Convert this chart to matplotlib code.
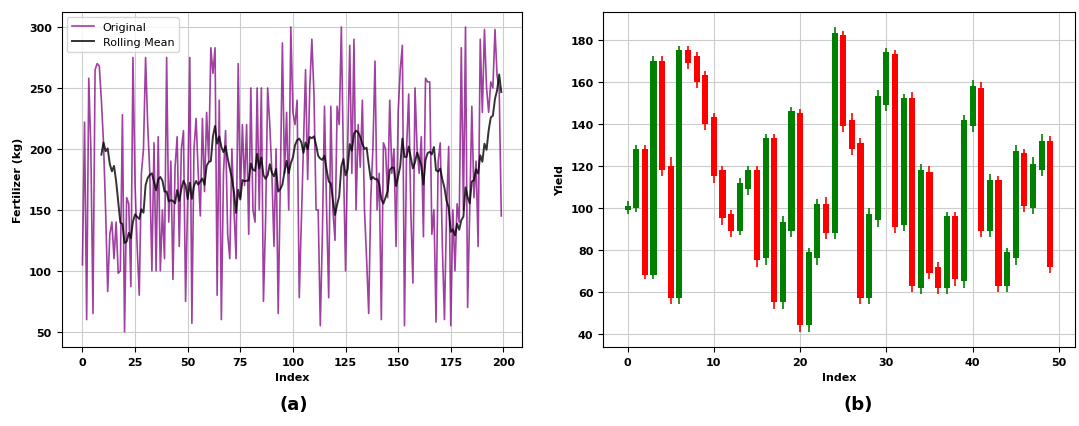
import matplotlib
matplotlib.use("Agg")
import matplotlib.pyplot as plt
import pandas as pd

# panel (a): fertilizer per index
fertilizer = [
    105, 222, 60, 258, 200, 65, 265, 270, 268, 240,
    205, 150, 83, 130, 140, 110, 140, 98, 100, 228,
    50, 160, 155, 87, 275, 170, 120, 80, 180, 200,
    275, 220, 180, 100, 205, 100, 210, 100, 150, 110,
    275, 140, 190, 93, 185, 210, 120, 200, 215, 75,
    160, 275, 57, 200, 225, 180, 145, 225, 165, 230,
    190, 283, 262, 283, 80, 240, 60, 180, 215, 130,
    110, 200, 150, 110, 270, 160, 220, 170, 220, 130,
    250, 150, 140, 250, 150, 250, 75, 140, 250, 220,
    180, 120, 200, 65, 170, 287, 180, 230, 150, 300,
    230, 220, 240, 78, 140, 200, 265, 175, 250, 290,
    245, 150, 150, 55, 130, 235, 150, 78, 235, 150,
    125, 235, 220, 300, 190, 100, 200, 285, 180, 290,
    150, 220, 185, 240, 150, 110, 65, 160, 200, 272,
    150, 180, 60, 205, 200, 160, 240, 180, 200, 120,
    230, 265, 285, 55, 200, 245, 150, 90, 250, 200,
    180, 210, 128, 258, 255, 255, 130, 150, 58, 190,
    205, 120, 60, 150, 202, 55, 150, 100, 155, 140,
    283, 150, 300, 70, 150, 235, 160, 190, 120, 290,
    230, 298, 250, 230, 255, 250, 298, 260, 250, 145,
]
window = 10

# panel (b): yield candles
opens = [99, 100, 128, 68, 170, 120, 57, 175, 172, 163,
         143, 118, 97, 89, 109, 118, 76, 133, 55, 89,
         145, 44, 76, 102, 88, 182, 142, 131, 57, 94,
         149, 173, 92, 152, 62, 117, 72, 62, 96, 65,
         139, 157, 89, 113, 63, 76, 126, 100, 118, 132]
closes = [101, 128, 68, 170, 118, 57, 175, 169, 160, 140,
          115, 95, 89, 112, 118, 75, 133, 55, 93, 146,
          44, 79, 102, 88, 183, 139, 128, 57, 97, 153,
          174, 91, 152, 63, 118, 69, 62, 96, 66, 142,
          158, 89, 113, 63, 79, 127, 101, 121, 132, 72]
highs = [103, 130, 130, 172, 172, 124, 177, 177, 174, 165,
         145, 120, 99, 114, 120, 120, 135, 135, 96, 148,
         147, 81, 104, 105, 186, 184, 145, 133, 100, 156,
         176, 175, 154, 155, 121, 120, 74, 98, 98, 144,
         161, 160, 116, 115, 81, 130, 128, 124, 135, 134]
lows = [97, 98, 66, 66, 115, 54, 54, 166, 157, 137,
        112, 92, 86, 87, 106, 72, 73, 52, 52, 86,
        41, 41, 73, 85, 85, 136, 125, 54, 54, 91,
        146, 88, 89, 60, 59, 66, 59, 59, 63, 62,
        136, 86, 86, 60, 60, 73, 98, 97, 115, 69]

plt.rcParams['font.family'] = ['DejaVu Sans']
plt.rcParams['font.size'] = 8
plt.rcParams['font.weight'] = 'bold'
plt.rcParams['axes.labelweight'] = 'bold'

fig = plt.figure(figsize=(10.79, 4.27), dpi=100)
ax1 = fig.add_axes([0.057, 0.185, 0.427, 0.785])
ax2 = fig.add_axes([0.559, 0.185, 0.437, 0.785])

s = pd.Series(fertilizer)
ax1.plot(s.index, s.values, color='purple', alpha=0.75, lw=1.2, label='Original')
ax1.plot(s.index, s.rolling(window).mean(), color='black', alpha=0.8, lw=1.4, label='Rolling Mean')
ax1.set_xlabel('Index')
ax1.set_ylabel('Fertilizer (kg)')
ax1.grid(True, color='#cccccc', lw=0.8)
ax1.legend(loc='upper left', fontsize=8, prop={'weight': 'normal', 'size': 8})

for i in range(len(opens)):
    c = 'green' if closes[i] >= opens[i] else 'red'
    ax2.vlines(i, lows[i], highs[i], color=c, lw=1.2)
    ax2.bar(i, closes[i] - opens[i], bottom=opens[i], width=0.7, color=c)
ax2.set_xlabel('Index')
ax2.set_ylabel('Yield')
ax2.grid(True, color='#cccccc', lw=0.8)
ax2.set_axisbelow(True)

fig.text(0.272, 0.04, '(a)', ha='center', fontsize=13, weight='bold')
fig.text(0.795, 0.04, '(b)', ha='center', fontsize=13, weight='bold')

fig.savefig('out.png', dpi=100)
